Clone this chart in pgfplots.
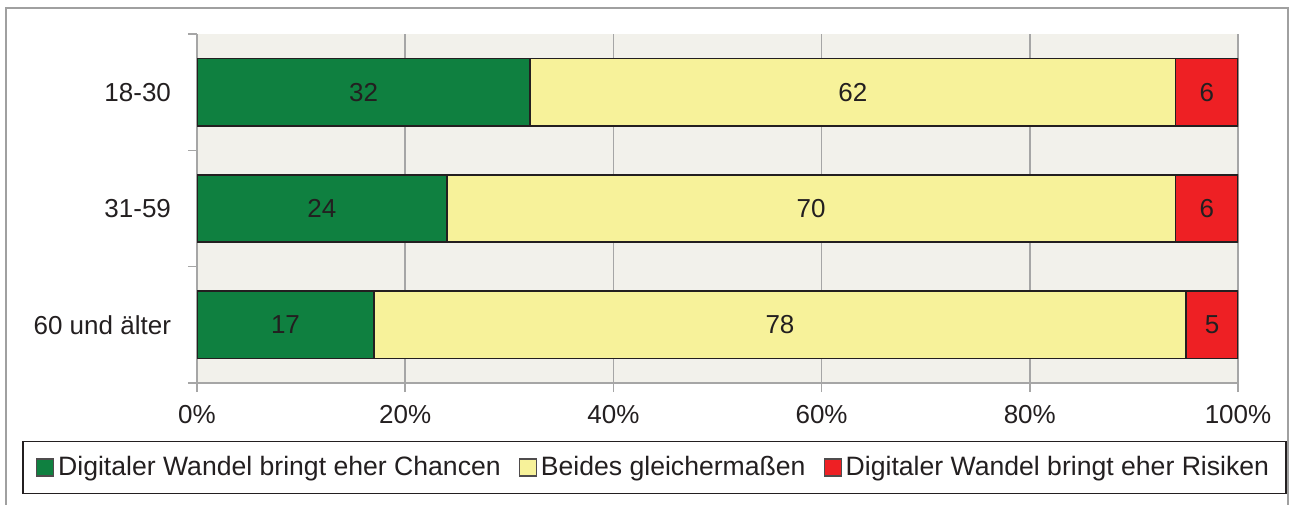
\documentclass[border=0pt]{standalone}
\usepackage{pgfplots}
\usepackage{pgfplotstable}
\pgfplotsset{compat=1.18}
\usepackage{fontspec}
\setmainfont{Liberation Sans}
\definecolor{cgreen}{HTML}{0F8040}
\definecolor{cyellow}{HTML}{F7F29A}
\definecolor{cred}{HTML}{EE2024}
\definecolor{cbg}{HTML}{F2F1EB}
\definecolor{cgrid}{HTML}{A6A6A6}
\definecolor{ctext}{HTML}{231F20}
\definecolor{cframe}{HTML}{A0A0A0}

\pgfplotstableread{
y a b c
2 32 62 6
1 24 70 6
0 17 78 5
}\datatable

\pgfplotstableread{
x y lab
16 2 32
63 2 62
97 2 6
12 1 24
59 1 70
97 1 6
8.5 0 17
56 0 78
97.5 0 5
}\labtable

\begin{document}
\begin{tikzpicture}
\path[use as bounding box] (0,0) rectangle (645.5bp,252.5bp);
\draw[cframe, line width=0.9bp] (3bp,-2bp) -- (3bp,248.5bp) -- (644bp,248.5bp) -- (644bp,-2bp);
\pgfplotsset{
  common/.style={
    at={(98.5bp,61bp)}, anchor=south west,
    scale only axis, width=520.5bp, height=174.5bp,
    xmin=0, xmax=100, ymin=-0.5, ymax=2.5,
  }
}
\begin{axis}[common,
  xbar stacked, bar width=0.58,
  axis background/.style={fill=cbg},
  axis x line*=bottom, axis y line*=left,
  axis line style={cgrid, line width=0.8bp},
  xtick={0,20,40,60,80,100},
  xticklabels={0\%,20\%,40\%,60\%,80\%,100\%},
  ytick={0,1,2},
  yticklabels={60 und älter,31-59,18-30},
  minor ytick={-0.5,0.5,1.5,2.5},
  tick align=outside,
  major tick length=4.5bp, minor tick length=4.5bp,
  major y tick style={draw=none},
  minor y tick style={cgrid, line width=0.8bp},
  major x tick style={cgrid, line width=0.8bp},
  xmajorgrids, major grid style={cgrid, line width=0.8bp},
  ticklabel style={font=\fontsize{13bp}{15bp}\selectfont, text=ctext},
  yticklabel style={xshift=-5bp},
  xticklabel style={yshift=-3bp},
  legend columns=3,
  legend style={at={(0.4395,-0.2421)}, anchor=center,
    draw=ctext, line width=0.75bp, fill=white,
    font=\fontsize{13.3bp}{16bp}\selectfont, text=ctext,
    inner xsep=6.5bp, inner ysep=5.5bp,
    /tikz/every even column/.append style={column sep=7bp}},
  legend cell align=left,
]
\addplot[fill=cgreen, draw=ctext, line width=0.9bp,
  legend image code/.code={\draw[fill=cgreen, draw=ctext!80, line width=0.6bp] (0bp,-4.25bp) rectangle (8.5bp,4.25bp);}]
  table[x=a, y=y] {\datatable};
\addlegendentry{Digitaler Wandel bringt eher Chancen}
\addplot[fill=cyellow, draw=ctext, line width=0.9bp,
  legend image code/.code={\draw[fill=cyellow, draw=ctext!80, line width=0.6bp] (0bp,-4.25bp) rectangle (8.5bp,4.25bp);}]
  table[x=b, y=y] {\datatable};
\addlegendentry{Beides gleichermaßen}
\addplot[fill=cred, draw=ctext, line width=0.9bp,
  legend image code/.code={\draw[fill=cred, draw=ctext!80, line width=0.6bp] (0bp,-4.25bp) rectangle (8.5bp,4.25bp);}]
  table[x=c, y=y] {\datatable};
\addlegendentry{Digitaler Wandel bringt eher Risiken}
\end{axis}
\begin{axis}[common, hide axis, clip=false]
\addplot[draw=none, mark=none, nodes near coords, point meta=explicit symbolic,
  every node near coord/.style={anchor=center, font=\fontsize{13bp}{15bp}\selectfont, text=ctext}]
  table[x=x, y=y, meta=lab] {\labtable};
\end{axis}
\end{tikzpicture}
\end{document}
